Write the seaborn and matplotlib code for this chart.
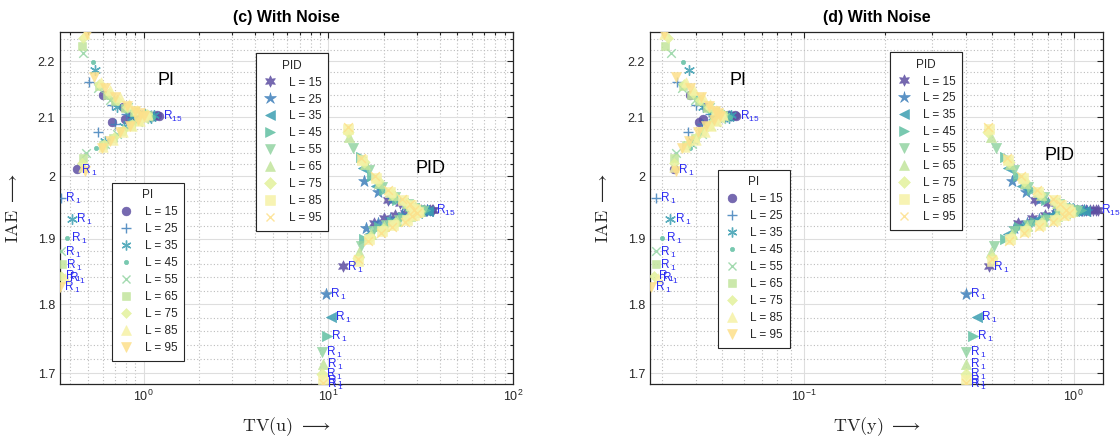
import matplotlib
matplotlib.use("Agg")
import matplotlib.pyplot as plt
from matplotlib.lines import Line2D
from matplotlib.ticker import FixedLocator, MultipleLocator, FuncFormatter, NullFormatter, LogLocator
import seaborn as sns

# ---------------------------------------------------------------- data
L_VALUES = [15, 25, 35, 45, 55, 65, 75, 85, 95]

# PI controller, steps R1..R15 for each horizon L (rows follow L_VALUES)
PI_IAE = [
    [2.012, 2.140, 2.118, 2.092, 2.098, 2.104, 2.103, 2.104, 2.103, 2.103, 2.104, 2.103, 2.103, 2.104, 2.103],
    [1.965, 2.162, 2.121, 2.074, 2.088, 2.106, 2.102, 2.105, 2.101, 2.104, 2.102, 2.103, 2.101, 2.104, 2.102],
    [1.931, 2.183, 2.059, 2.118, 2.085, 2.100, 2.106, 2.099, 2.104, 2.101, 2.106, 2.100, 2.103, 2.099, 2.104],
    [1.901, 2.198, 2.048, 2.135, 2.063, 2.112, 2.092, 2.108, 2.096, 2.105, 2.099, 2.103, 2.100, 2.102, 2.101],
    [1.880, 2.214, 2.040, 2.151, 2.130, 2.055, 2.072, 2.118, 2.085, 2.111, 2.092, 2.106, 2.097, 2.103, 2.100],
    [1.860, 2.030, 2.228, 2.155, 2.140, 2.128, 2.117, 2.109, 2.052, 2.064, 2.076, 2.086, 2.094, 2.102, 2.104],
    [1.842, 2.022, 2.243, 2.158, 2.143, 2.131, 2.119, 2.111, 2.054, 2.066, 2.078, 2.088, 2.096, 2.104, 2.106],
    [1.839, 2.016, 2.250, 2.163, 2.148, 2.135, 2.123, 2.113, 2.050, 2.062, 2.075, 2.085, 2.094, 2.100, 2.105],
    [1.826, 2.009, 2.250, 2.172, 2.152, 2.135, 2.120, 2.112, 2.047, 2.060, 2.074, 2.086, 2.095, 2.108, 2.102],
]
PI_TV_U = [
    [0.436, 0.600, 0.770, 0.673, 0.790, 0.860, 0.900, 0.940, 0.980, 1.020, 1.060, 1.100, 1.140, 1.180, 1.210],
    [0.356, 0.505, 0.673, 0.565, 0.700, 0.800, 0.850, 0.900, 0.940, 0.980, 1.020, 1.050, 1.080, 1.100, 1.120],
    [0.408, 0.544, 0.620, 0.720, 0.780, 0.860, 0.900, 0.930, 0.960, 0.990, 1.020, 1.050, 1.080, 1.100, 1.130],
    [0.383, 0.530, 0.550, 0.640, 0.660, 0.800, 0.840, 0.880, 0.920, 0.960, 1.000, 1.030, 1.060, 1.090, 1.120],
    [0.355, 0.470, 0.486, 0.565, 0.660, 0.617, 0.720, 0.820, 0.850, 0.900, 0.930, 0.970, 1.000, 1.030, 1.060],
    [0.361, 0.470, 0.465, 0.570, 0.630, 0.700, 0.790, 0.880, 0.600, 0.680, 0.760, 0.850, 0.930, 1.000, 1.050],
    [0.355, 0.463, 0.470, 0.575, 0.645, 0.720, 0.810, 0.900, 0.610, 0.690, 0.775, 0.865, 0.950, 1.000, 1.040],
    [0.374, 0.470, 0.480, 0.585, 0.660, 0.740, 0.830, 0.920, 0.600, 0.680, 0.770, 0.860, 0.950, 1.000, 1.050],
    [0.353, 0.480, 0.490, 0.540, 0.617, 0.698, 0.810, 0.900, 0.594, 0.656, 0.744, 0.843, 0.932, 0.956, 1.000],
]
PI_TV_Y = [
    [0.0331, 0.0380, 0.0434, 0.0409, 0.0423, 0.0475, 0.0485, 0.0495, 0.0505, 0.0515, 0.0525, 0.0535, 0.0545, 0.0555, 0.0562],
    [0.0283, 0.0341, 0.0400, 0.0372, 0.0420, 0.0450, 0.0460, 0.0470, 0.0480, 0.0490, 0.0500, 0.0510, 0.0520, 0.0530, 0.0540],
    [0.0321, 0.0375, 0.0390, 0.0425, 0.0440, 0.0460, 0.0470, 0.0480, 0.0490, 0.0495, 0.0500, 0.0510, 0.0520, 0.0530, 0.0540],
    [0.0299, 0.0359, 0.0378, 0.0395, 0.0400, 0.0445, 0.0455, 0.0465, 0.0475, 0.0485, 0.0495, 0.0505, 0.0515, 0.0525, 0.0535],
    [0.0283, 0.0322, 0.0336, 0.0356, 0.0395, 0.0385, 0.0420, 0.0450, 0.0455, 0.0470, 0.0475, 0.0490, 0.0495, 0.0505, 0.0510],
    [0.0283, 0.0331, 0.0308, 0.0358, 0.0383, 0.0410, 0.0440, 0.0470, 0.0368, 0.0395, 0.0420, 0.0445, 0.0465, 0.0490, 0.0505],
    [0.0280, 0.0331, 0.0316, 0.0362, 0.0388, 0.0415, 0.0445, 0.0472, 0.0372, 0.0400, 0.0428, 0.0452, 0.0472, 0.0490, 0.0500],
    [0.0288, 0.0331, 0.0305, 0.0366, 0.0393, 0.0423, 0.0450, 0.0475, 0.0365, 0.0400, 0.0430, 0.0455, 0.0478, 0.0490, 0.0505],
    [0.0272, 0.0336, 0.0303, 0.0336, 0.0380, 0.0416, 0.0445, 0.0470, 0.0356, 0.0375, 0.0405, 0.0434, 0.0464, 0.0480, 0.0490],
]

# PID controller, steps R1..R15 for each horizon L
PID_IAE = [
    [1.857, 1.924, 1.932, 1.937, 1.941, 1.962, 1.957, 1.951, 1.946, 1.945, 1.946, 1.945, 1.946, 1.945, 1.946],
    [1.815, 1.993, 1.975, 1.963, 1.953, 1.948, 1.916, 1.925, 1.931, 1.937, 1.941, 1.945, 1.944, 1.945, 1.944],
    [1.781, 2.014, 1.985, 1.968, 1.956, 1.949, 1.908, 1.920, 1.929, 1.936, 1.941, 1.944, 1.945, 1.944, 1.946],
    [1.753, 2.032, 2.000, 1.978, 1.962, 1.952, 1.900, 1.918, 1.927, 1.934, 1.940, 1.945, 1.944, 1.946, 1.947],
    [1.730, 2.048, 2.010, 1.983, 1.966, 1.955, 1.889, 1.912, 1.922, 1.930, 1.937, 1.943, 1.946, 1.949, 1.944],
    [1.713, 2.066, 2.020, 1.990, 1.970, 1.957, 1.879, 1.908, 1.920, 1.928, 1.935, 1.942, 1.948, 1.944, 1.952],
    [1.699, 2.075, 2.024, 1.993, 1.972, 1.959, 1.870, 1.903, 1.915, 1.924, 1.932, 1.940, 1.951, 1.944, 1.946],
    [1.690, 2.080, 2.028, 1.997, 1.975, 1.961, 1.865, 1.899, 1.912, 1.921, 1.930, 1.938, 1.953, 1.942, 1.947],
    [1.686, 2.084, 2.031, 2.000, 1.978, 1.963, 1.868, 1.896, 1.909, 1.918, 1.927, 1.936, 1.955, 1.940, 1.946],
]
PID_TV_U = [
    [12.0, 17.6, 20.0, 23.0, 26.0, 21.0, 24.5, 28.0, 30.5, 31.8, 33.0, 34.2, 35.3, 36.2, 37.0],
    [9.68, 15.6, 18.5, 22.0, 26.0, 29.5, 16.0, 18.5, 21.5, 25.0, 28.5, 31.0, 32.5, 34.0, 35.0],
    [10.31, 15.3, 18.0, 21.5, 25.5, 29.0, 16.6, 19.5, 23.0, 26.5, 30.0, 31.5, 33.0, 34.5, 30.5],
    [9.8, 15.0, 17.2, 20.0, 23.5, 27.5, 15.6, 18.8, 22.0, 25.5, 29.0, 30.5, 32.0, 33.5, 31.0],
    [9.2, 13.6, 16.5, 19.5, 23.0, 27.0, 15.0, 17.5, 20.5, 24.0, 28.0, 30.0, 31.5, 29.0, 32.5],
    [9.3, 12.9, 15.8, 18.8, 22.5, 26.5, 14.6, 17.0, 20.0, 23.5, 27.5, 30.0, 29.0, 31.5, 28.5],
    [9.2, 12.75, 15.5, 18.5, 22.0, 26.0, 14.4, 16.8, 19.8, 23.0, 27.0, 29.5, 28.5, 31.0, 30.0],
    [9.3, 12.8, 15.2, 18.2, 21.5, 25.5, 14.4, 16.5, 19.5, 22.5, 26.5, 29.0, 28.0, 30.5, 29.5],
    [9.3, 12.75, 15.0, 17.8, 21.0, 25.0, 14.5, 16.3, 19.2, 22.0, 26.0, 28.5, 27.5, 30.0, 29.0],
]
PID_TV_Y = [
    [0.484, 0.620, 0.700, 0.780, 0.860, 0.720, 0.800, 0.900, 1.030, 1.070, 1.110, 1.150, 1.180, 1.210, 1.230],
    [0.400, 0.590, 0.665, 0.750, 0.860, 0.960, 0.600, 0.670, 0.745, 0.840, 0.940, 1.000, 1.040, 1.090, 1.120],
    [0.437, 0.570, 0.645, 0.735, 0.845, 0.950, 0.570, 0.640, 0.730, 0.820, 0.930, 1.000, 1.050, 1.100, 1.020],
    [0.423, 0.559, 0.620, 0.700, 0.790, 0.900, 0.559, 0.630, 0.720, 0.800, 0.900, 0.980, 1.020, 1.060, 1.000],
    [0.400, 0.514, 0.600, 0.680, 0.775, 0.880, 0.505, 0.600, 0.680, 0.780, 0.880, 0.960, 1.000, 0.930, 1.030],
    [0.398, 0.493, 0.580, 0.660, 0.760, 0.870, 0.493, 0.590, 0.670, 0.770, 0.870, 0.950, 0.920, 0.990, 0.900],
    [0.398, 0.480, 0.575, 0.655, 0.750, 0.860, 0.500, 0.585, 0.665, 0.760, 0.860, 0.940, 0.910, 0.980, 0.960],
    [0.400, 0.485, 0.570, 0.650, 0.740, 0.850, 0.500, 0.580, 0.660, 0.750, 0.850, 0.930, 0.900, 0.970, 0.950],
    [0.400, 0.480, 0.565, 0.640, 0.730, 0.840, 0.500, 0.575, 0.655, 0.745, 0.840, 0.920, 0.890, 0.960, 0.940],
]

Y_TICKS = [1.7, 1.8, 1.9, 2.0, 2.1, 2.2]

# ---------------------------------------------------------------- style
COLORS = ['#5e4fa2', '#3f80bb', '#3c9fb2', '#62c0a3', '#93d4a3',
          '#c2e59c', '#e3f29c', '#f6f2a6', '#fde08b']
PI_MARKERS = ['o', '+', (6, 2, 0), '.', 'x', 's', 'D', '^', 'v']
PI_SIZES = [40, 55, 50, 40, 38, 38, 26, 48, 52]
PID_MARKERS = [(6, 1, 0), '*', '<', '>', 'v', '^', 'D', 's', 'x']
PID_SIZES = [70, 80, 55, 55, 55, 55, 34, 42, 40]
LINE_MARKERS = {'+', 'x', (6, 2, 0)}
TAG_BLUE = '#2a2af2'
INK = '#262626'

sns.set_theme(style='white')
plt.rcParams['font.family'] = ['Liberation Sans', 'DejaVu Sans']
plt.rcParams['mathtext.fontset'] = 'custom'
plt.rcParams['mathtext.rm'] = 'Liberation Sans'
plt.rcParams['mathtext.it'] = 'Liberation Sans:italic'
plt.rcParams['mathtext.bf'] = 'Liberation Sans:bold'


def scatter_series(ax, tv, iae, marker, size, color):
    line_art = marker in LINE_MARKERS
    sns.scatterplot(x=tv, y=iae, ax=ax, marker=marker, s=size, color=color,
                    edgecolor=color, linewidth=1.0 if line_art else 0.4,
                    alpha=0.85, legend=False, zorder=3)


def tag(ax, x, y, txt, dx=3):
    ax.annotate(txt, xy=(x, y), xytext=(dx, -3), textcoords='offset points',
                ha='left', va='baseline', fontsize=8.5, color=TAG_BLUE,
                annotation_clip=False, zorder=4)


def make_legend(ax, title, markers, sizes, anchor):
    handles = []
    for L, m, s, c in zip(L_VALUES, markers, sizes, COLORS):
        line_art = m in LINE_MARKERS
        handles.append(Line2D([], [], ls='none', marker=m, markersize=s ** 0.5,
                              color=c, markerfacecolor=c, markeredgecolor=c,
                              markeredgewidth=1.0 if line_art else 0.4,
                              alpha=0.85, label=f'L = {L}'))
    leg = ax.legend(handles=handles, title=title, loc='upper left',
                    bbox_to_anchor=anchor, bbox_transform=ax.transAxes,
                    borderaxespad=0, frameon=True, fancybox=False,
                    edgecolor=INK, framealpha=1, fontsize=8.5,
                    title_fontsize=8.5, labelspacing=0.42, handlelength=1.2,
                    handletextpad=1.0, borderpad=0.55)
    leg.get_frame().set_linewidth(0.8)
    ax.add_artist(leg)


def draw_panel(ax, pi_tv, pid_tv, title, xlabel, xlim, pi_xy, pid_xy,
               pi_anchor, pid_anchor):
    for i in range(len(L_VALUES)):
        scatter_series(ax, pi_tv[i], PI_IAE[i], PI_MARKERS[i], PI_SIZES[i], COLORS[i])
    for i in range(len(L_VALUES)):
        scatter_series(ax, pid_tv[i], PID_IAE[i], PID_MARKERS[i], PID_SIZES[i], COLORS[i])

    # first-step tags for every horizon, final-step tag on the converged end
    for i in range(len(L_VALUES)):
        tag(ax, pi_tv[i][0], PI_IAE[i][0], r'R$_{\ 1}$')
        tag(ax, pid_tv[i][0], PID_IAE[i][0], r'R$_{\ 1}$')
    tag(ax, pi_tv[0][-1], PI_IAE[0][-1], r'R$_{15}$')
    tag(ax, pid_tv[0][-1], PID_IAE[0][-1], r'R$_{15}$', dx=2)

    ax.text(*pi_xy, 'PI', fontsize=13, ha='center', va='center', color='black')
    ax.text(*pid_xy, 'PID', fontsize=13, ha='center', va='center', color='black')

    ax.set_xscale('log')
    ax.set_yscale('log')
    ax.set_xlim(*xlim)
    ax.set_ylim(1.685, 2.2535)

    ax.yaxis.set_major_locator(FixedLocator(Y_TICKS))
    ax.yaxis.set_minor_locator(MultipleLocator(0.02))
    ax.yaxis.set_major_formatter(FuncFormatter(lambda v, p: f'{v:g}'))
    ax.yaxis.set_minor_formatter(NullFormatter())
    ax.xaxis.set_major_locator(LogLocator(base=10))
    ax.xaxis.set_minor_locator(LogLocator(base=10, subs=range(2, 10)))
    ax.xaxis.set_minor_formatter(NullFormatter())

    ax.set_axisbelow(True)
    ax.grid(True, which='major', color='#dedede', lw=0.8, ls='-')
    ax.grid(True, which='minor', color='#bdbdbd', lw=0.8, ls=(0, (1, 2)))
    ax.tick_params(which='both', direction='in', top=True, right=True,
                   colors=INK, labelsize=9, width=0.8)
    ax.tick_params(which='major', length=4)
    ax.tick_params(which='minor', length=2)
    for sp in ax.spines.values():
        sp.set_color(INK)
        sp.set_linewidth(0.9)

    ax.set_title(title, fontsize=11.5, fontweight='bold', pad=7, color='black')
    ax.set_xlabel(xlabel, fontsize=13, math_fontfamily='cm', color=INK)
    ax.set_ylabel(r'$\mathrm{IAE}\ \longrightarrow$', fontsize=13,
                  math_fontfamily='cm', color=INK)
    ax.xaxis.set_label_coords(0.5, -0.088)
    ax.yaxis.set_label_coords(-0.085, 0.5)

    make_legend(ax, 'PI', PI_MARKERS, PI_SIZES, pi_anchor)
    make_legend(ax, 'PID', PID_MARKERS, PID_SIZES, pid_anchor)


fig = plt.figure(figsize=(11.2, 4.37), dpi=100)
ax_u = fig.add_axes([0.0536, 0.1213, 0.4045, 0.8055])
ax_y = fig.add_axes([0.5804, 0.1213, 0.4045, 0.8055])

draw_panel(ax_u, PI_TV_U, PID_TV_U, '(c) With Noise', r'$\mathrm{TV(u)}\ \longrightarrow$',
           (0.352, 100), (1.32, 2.165), (35.6, 2.014), (0.115, 0.571), (0.433, 0.940))
draw_panel(ax_y, PI_TV_Y, PID_TV_Y, '(d) With Noise', r'$\mathrm{TV(y)}\ \longrightarrow$',
           (0.027, 1.285), (0.0573, 2.165), (0.887, 2.035), (0.150, 0.608), (0.530, 0.943))

fig.savefig('out.png', dpi=100)
